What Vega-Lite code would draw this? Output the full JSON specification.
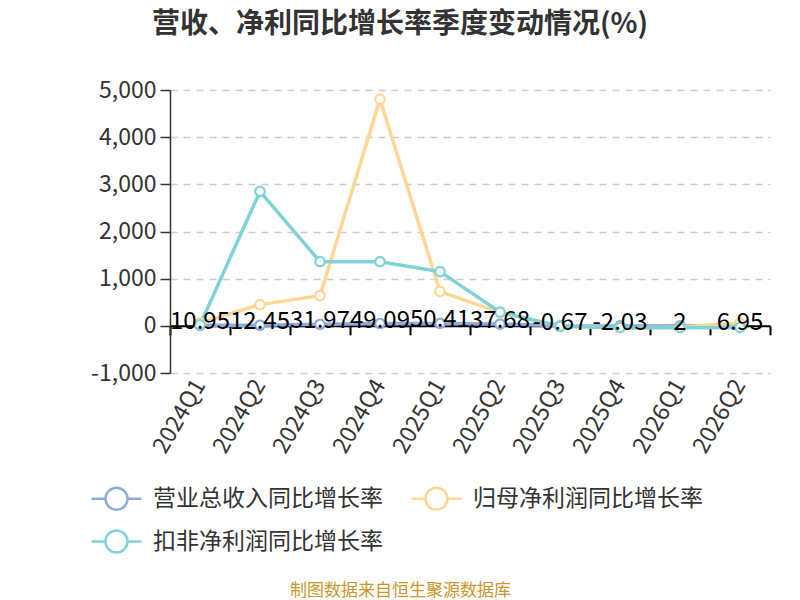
{
  "$schema": "https://vega.github.io/schema/vega-lite/v6.json",
  "width": 600,
  "height": 283,
  "autosize": "none",
  "padding": {"left": 170, "top": 90, "right": 30, "bottom": 227},
  "background": "white",
  "title": {
    "text": "营收、净利同比增长率季度变动情况(%)",
    "font": "Noto Sans CJK SC",
    "fontSize": 28,
    "fontWeight": "bold",
    "color": "#333333",
    "anchor": "middle",
    "dx": -70,
    "offset": 40
  },
  "config": {
    "font": "Noto Sans CJK SC",
    "view": {"stroke": null}
  },
  "data": {
    "values": [
      {"q": "2024Q1", "s": "营业总收入同比增长率", "v": 10.95},
      {"q": "2024Q2", "s": "营业总收入同比增长率", "v": 12.45},
      {"q": "2024Q3", "s": "营业总收入同比增长率", "v": 31.97},
      {"q": "2024Q4", "s": "营业总收入同比增长率", "v": 49.09},
      {"q": "2025Q1", "s": "营业总收入同比增长率", "v": 50.41},
      {"q": "2025Q2", "s": "营业总收入同比增长率", "v": 37.68},
      {"q": "2025Q3", "s": "营业总收入同比增长率", "v": -0.67},
      {"q": "2025Q4", "s": "营业总收入同比增长率", "v": -2.03},
      {"q": "2026Q1", "s": "营业总收入同比增长率", "v": 2},
      {"q": "2026Q2", "s": "营业总收入同比增长率", "v": 6.95},
      {"q": "2024Q1", "s": "归母净利润同比增长率", "v": 60},
      {"q": "2024Q2", "s": "归母净利润同比增长率", "v": 450},
      {"q": "2024Q3", "s": "归母净利润同比增长率", "v": 640},
      {"q": "2024Q4", "s": "归母净利润同比增长率", "v": 4800},
      {"q": "2025Q1", "s": "归母净利润同比增长率", "v": 730},
      {"q": "2025Q2", "s": "归母净利润同比增长率", "v": 280},
      {"q": "2025Q3", "s": "归母净利润同比增长率", "v": -10},
      {"q": "2025Q4", "s": "归母净利润同比增长率", "v": -40},
      {"q": "2026Q1", "s": "归母净利润同比增长率", "v": -30},
      {"q": "2026Q2", "s": "归母净利润同比增长率", "v": 60},
      {"q": "2024Q1", "s": "扣非净利润同比增长率", "v": 20},
      {"q": "2024Q2", "s": "扣非净利润同比增长率", "v": 2850},
      {"q": "2024Q3", "s": "扣非净利润同比增长率", "v": 1360},
      {"q": "2024Q4", "s": "扣非净利润同比增长率", "v": 1360},
      {"q": "2025Q1", "s": "扣非净利润同比增长率", "v": 1150},
      {"q": "2025Q2", "s": "扣非净利润同比增长率", "v": 290},
      {"q": "2025Q3", "s": "扣非净利润同比增长率", "v": -10},
      {"q": "2025Q4", "s": "扣非净利润同比增长率", "v": -40},
      {"q": "2026Q1", "s": "扣非净利润同比增长率", "v": -40},
      {"q": "2026Q2", "s": "扣非净利润同比增长率", "v": -35}
    ]
  },
  "resolve": {"axis": {"x": "independent"}},
  "layer": [
    {
      "mark": {"type": "line", "strokeWidth": 3.5},
      "encoding": {
        "x": {
          "field": "q",
          "type": "ordinal",
          "axis": {
            "orient": "bottom",
            "domain": false,
            "ticks": false,
            "grid": false,
            "labelAngle": -60,
            "labelFontSize": 23,
            "labelColor": "#333333",
            "labelPadding": 8,
            "title": "制图数据来自恒生聚源数据库",
            "titleColor": "#C9962A",
            "titleFontSize": 17,
            "titleFontWeight": "normal",
            "titleX": 230,
            "titleY": 217,
            "titleAlign": "center",
            "titleBaseline": "middle"
          }
        },
        "y": {
          "field": "v",
          "type": "quantitative",
          "scale": {"domain": [-1000, 5000], "nice": false},
          "axis": {
            "title": null,
            "values": [-1000, 0, 1000, 2000, 3000, 4000, 5000],
            "format": ",.0f",
            "labelExpr": "replace(datum.label, '−', '-')",
            "labelFontSize": 23,
            "labelColor": "#333333",
            "labelPadding": 4,
            "tickSize": 10,
            "tickColor": "#333333",
            "tickWidth": 1.5,
            "domainColor": "#333333",
            "domainWidth": 1.5,
            "gridColor": "#cccccc",
            "gridDash": [7, 6],
            "gridWidth": 1.5
          }
        },
        "color": {
          "field": "s",
          "type": "nominal",
          "scale": {
            "domain": ["营业总收入同比增长率", "归母净利润同比增长率", "扣非净利润同比增长率"],
            "range": ["#8FAADC", "#FFD794", "#7FD2D6"]
          },
          "legend": {
            "title": null,
            "orient": "none",
            "direction": "horizontal",
            "legendX": -80,
            "legendY": 382,
            "columns": 2,
            "columnPadding": 23,
            "rowPadding": -7,
            "labelFontSize": 23,
            "labelColor": "#333333",
            "labelLimit": 400,
            "labelOffset": 10,
            "symbolType": "M -1 0 L -0.44 0 M 0.44 0 L 1 0 M -0.44 0 A 0.44 0.44 0 1 0 0.44 0 A 0.44 0.44 0 1 0 -0.44 0",
            "symbolSize": 2500,
            "symbolStrokeWidth": 2.5,
            "symbolFillColor": "white"
          }
        }
      }
    },
    {
      "mark": {"type": "point", "filled": false, "fill": "white", "fillOpacity": 1, "size": 90, "strokeWidth": 2.2, "opacity": 1},
      "encoding": {
        "x": {"field": "q", "type": "ordinal", "axis": null},
        "y": {"field": "v", "type": "quantitative"},
        "color": {"field": "s", "type": "nominal"}
      }
    },
    {
      "transform": [{"filter": "datum.s == '营业总收入同比增长率'"}],
      "mark": {"type": "text", "fontSize": 24, "color": "#000000", "dy": -3, "align": "center", "baseline": "middle"},
      "encoding": {
        "x": {"field": "q", "type": "ordinal", "axis": null},
        "y": {"field": "v", "type": "quantitative"},
        "text": {"field": "v", "type": "nominal"}
      }
    },
    {
      "mark": {"type": "rule", "strokeWidth": 0, "opacity": 0},
      "encoding": {
        "x": {
          "field": "q",
          "type": "ordinal",
          "axis": {
            "orient": "bottom",
            "offset": -47.17,
            "labels": false,
            "title": null,
            "grid": false,
            "domain": true,
            "domainColor": "#000000",
            "domainWidth": 2,
            "ticks": true,
            "tickBand": "extent",
            "tickColor": "#000000",
            "tickWidth": 2,
            "tickSize": 9
          }
        }
      }
    }
  ]
}
